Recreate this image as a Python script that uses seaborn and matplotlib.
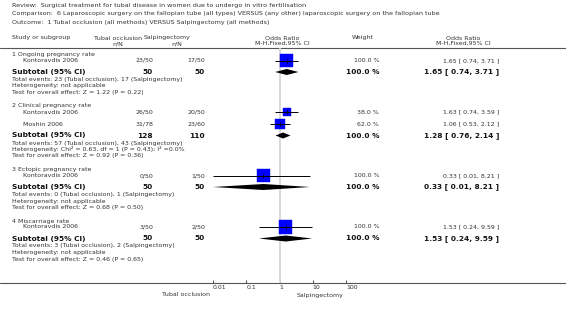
import numpy as np
import pandas as pd
import matplotlib
matplotlib.use("Agg")
import matplotlib.pyplot as plt
import seaborn as sns

# header texts
review = "Review:  Surgical treatment for tubal disease in women due to undergo in vitro fertilisation"
comparison = "Comparison:  6 Laparoscopic surgery on the fallopian tube (all types) VERSUS (any other) laparoscopic surgery on the fallopian tube"
outcome = "Outcome:  1 Tubal occlusion (all methods) VERSUS Salpingectomy (all methods)"

# subgroups
groups = ["1 Ongoing pregnancy rate", "2 Clinical pregnancy rate",
          "3 Ectopic pregnancy rate", "4 Miscarriage rate"]

# studies
study_group = [0, 1, 1, 2, 3]
study_name = ["Kontoravdis 2006", "Kontoravdis 2006", "Moshin 2006", "Kontoravdis 2006", "Kontoravdis 2006"]
occl_nN = ["23/50", "26/50", "31/78", "0/50", "3/50"]
salp_nN = ["17/50", "20/50", "23/60", "1/50", "2/50"]
study_weight = [100.0, 38.0, 62.0, 100.0, 100.0]
study_or = [1.65, 1.63, 1.06, 0.33, 1.53]
study_lo = [0.74, 0.74, 0.53, 0.01, 0.24]
study_hi = [3.71, 3.59, 2.12, 8.21, 9.59]

# subtotals
sub_n1 = [50, 128, 50, 50]
sub_n2 = [50, 110, 50, 50]
sub_or = [1.65, 1.28, 0.33, 1.53]
sub_lo = [0.74, 0.76, 0.01, 0.24]
sub_hi = [3.71, 2.14, 8.21, 9.59]
sub_events = ["Total events: 23 (Tubal occlusion), 17 (Salpingectomy)",
              "Total events: 57 (Tubal occlusion), 43 (Salpingectomy)",
              "Total events: 0 (Tubal occlusion), 1 (Salpingectomy)",
              "Total events: 3 (Tubal occlusion), 2 (Salpingectomy)"]
sub_het = ["Heterogeneity: not applicable",
           "Heterogeneity: Chi² = 0.63, df = 1 (P = 0.43); I² =0.0%",
           "Heterogeneity: not applicable",
           "Heterogeneity: not applicable"]
sub_test = ["Test for overall effect: Z = 1.22 (P = 0.22)",
            "Test for overall effect: Z = 0.92 (P = 0.36)",
            "Test for overall effect: Z = 0.68 (P = 0.50)",
            "Test for overall effect: Z = 0.46 (P = 0.65)"]

axis_ticks = [0.01, 0.1, 1, 10, 100]
axis_labels = ["0.01", "0.1", "1", "10", "100"]

sns.set_theme(style="white")
plt.rcParams["font.family"] = ["DejaVu Sans"]

W, H = 566, 313
fig = plt.figure(figsize=(W / 100, H / 100), dpi=100)
ax0 = fig.add_axes([0, 0, 1, 1])
ax0.set_xlim(0, W)
ax0.set_ylim(H, 0)
ax0.axis("off")

txt = "#333333"
fs = 4.5
fsb = 5.3


def t(x, y, s, ha="left", bold=False, size=None):
    ax0.text(x, y, s, ha=ha, va="center", color="#111111" if bold else txt,
             fontsize=size or (fsb if bold else fs),
             fontweight="bold" if bold else "normal")


t(12, 5.5, review, size=4.6)
t(12, 14, comparison, size=4.6)
t(12, 22.5, outcome, size=4.6)
t(12, 38, "Study or subgroup")
t(118, 38, "Tubal occlusion", ha="center")
t(118, 43.5, "n/N", ha="center")
t(167, 38, "Salpingectomy", ha="center")
t(177, 43.5, "n/N", ha="center")
t(282, 38, "Odds Ratio", ha="center")
t(282, 43.5, "M-H,Fixed,95% CI", ha="center")
t(363, 38, "Weight", ha="center")
t(463, 38, "Odds Ratio", ha="center")
t(463, 43.5, "M-H,Fixed,95% CI", ha="center")

ax0.axhline(48, color="#555555", lw=0.8)
ax0.axhline(283, color="#555555", lw=0.8)

# row layout
y = 54.5
study_y, sub_y = [], []
for g in range(len(groups)):
    t(12, y, groups[g])
    y += 6
    idx = [i for i, gg in enumerate(study_group) if gg == g]
    for k, i in enumerate(idx):
        if k > 0:
            y += 12
        study_y.append(y)
        t(23, y, study_name[i])
        t(153, y, occl_nN[i], ha="right")
        t(205, y, salp_nN[i], ha="right")
        t(379, y, f"{study_weight[i]:.1f} %", ha="right")
        t(499, y, f"{study_or[i]:.2f} [ {study_lo[i]:.2f}, {study_hi[i]:.2f} ]", ha="right")
    y += 11.5
    sub_y.append(y)
    t(12, y, "Subtotal (95% CI)", bold=True)
    t(153, y, str(sub_n1[g]), ha="right", bold=True)
    t(205, y, str(sub_n2[g]), ha="right", bold=True)
    t(379, y, "100.0 %", ha="right", bold=True)
    t(499, y, f"{sub_or[g]:.2f} [ {sub_lo[g]:.2f}, {sub_hi[g]:.2f} ]", ha="right", bold=True)
    y += 7.5
    t(12, y, sub_events[g])
    y += 6.5
    t(12, y, sub_het[g])
    y += 6.5
    t(12, y, sub_test[g])
    y += 13.5

t(186, 295, "Tubal occlusion", ha="center")
t(320, 295, "Salpingectomy", ha="center")

# forest panel, y in the same pixel rows
ax = fig.add_axes([213 / W, (H - 283) / H, 133 / W, 283 / H])
ax.patch.set_alpha(0)
ax.set_xscale("log")
ax.set_xlim(0.01, 100)
ax.set_ylim(283, 0)
for sp in ax.spines.values():
    sp.set_visible(False)

ax.vlines(1, 48, 283, color="#d6d6d6", lw=1.3, zorder=1)

df = pd.DataFrame({"or": study_or, "lo": study_lo, "hi": study_hi,
                   "weight": study_weight, "y": study_y})
sns.scatterplot(data=df, x="or", y="y", size="weight", sizes=(0, 88),
                size_norm=(0, 100), marker="s", color="#0000ff",
                edgecolor="#0000ff", linewidth=0.3, legend=False, ax=ax,
                zorder=2, clip_on=False)
ax.hlines(df["y"], df["lo"], df["hi"], color="black", lw=0.7, zorder=3, clip_on=False)
ax.plot(df["or"], df["y"], "|", color="black", ms=3, mew=0.6, zorder=4, clip_on=False)

for g in range(len(groups)):
    yy = sub_y[g]
    ax.fill([sub_lo[g], sub_or[g], sub_hi[g], sub_or[g]],
            [yy, yy - 3, yy, yy + 3], color="black", lw=0, zorder=3, clip_on=False)

ax.set_xticks(axis_ticks)
ax.set_xticklabels(axis_labels)
ax.minorticks_off()
ax.set_yticks([])
ax.set_xlabel("")
ax.set_ylabel("")
ax.tick_params(axis="x", direction="in", length=2.5, width=0.6, labelsize=fs,
               pad=1.5, colors=txt, bottom=True)
for lbl in ax.get_xticklabels():
    lbl.set_ha("left")

fig.savefig("out.png", dpi=100)
